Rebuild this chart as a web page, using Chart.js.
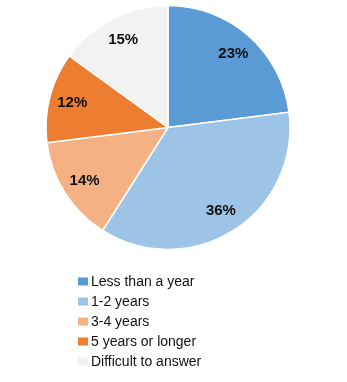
<!DOCTYPE html>
<html>
<head>
<meta charset="utf-8">
<script src="https://cdn.jsdelivr.net/npm/chart.js@4/dist/chart.umd.min.js"></script>
<style>
  html, body { margin: 0; padding: 0; background: #ffffff; }
  #wrap { width: 347px; height: 382px; }
</style>
</head>
<body>
<div id="wrap"><canvas id="chart" width="347" height="382"></canvas></div>
<script>
// Time spent – share of respondents
const categories = ['Less than a year', '1-2 years', '3-4 years', '5 years or longer', 'Difficult to answer'];
const shares = [23, 36, 14, 12, 15];
const colors = ['#5B9BD5', '#9DC3E6', '#F4B183', '#ED7D31', '#F2F2F2'];

const FONT = 'Arial, "Liberation Sans", sans-serif';

// Percent labels inside each slice
const sliceLabels = {
  id: 'sliceLabels',
  afterDatasetsDraw(chart) {
    const ctx = chart.ctx;
    const meta = chart.getDatasetMeta(0);
    ctx.save();
    ctx.font = 'bold 15px ' + FONT;
    ctx.fillStyle = '#111111';
    ctx.textAlign = 'center';
    ctx.textBaseline = 'middle';
    meta.data.forEach((arc, i) => {
      const p = arc.getProps(['x', 'y', 'startAngle', 'endAngle', 'outerRadius'], true);
      const mid = (p.startAngle + p.endAngle) / 2;
      const r = p.outerRadius * 0.81;
      ctx.fillText(shares[i] + '%', p.x + Math.cos(mid) * r, p.y + Math.sin(mid) * r);
    });
    ctx.restore();
  }
};

// Single-column legend under the pie
const columnLegend = {
  id: 'columnLegend',
  afterDraw(chart) {
    const ctx = chart.ctx;
    const x0 = 78, y0 = 281, step = 20;
    ctx.save();
    ctx.font = '14px ' + FONT;
    ctx.textBaseline = 'middle';
    ctx.textAlign = 'left';
    categories.forEach((label, i) => {
      const y = y0 + i * step;
      ctx.fillStyle = colors[i];
      ctx.fillRect(x0, y - 3.5, 10, 8);
      ctx.fillStyle = '#111111';
      ctx.fillText(label, x0 + 13, y + 1);
    });
    ctx.restore();
  }
};

new Chart(document.getElementById('chart'), {
  type: 'pie',
  data: {
    labels: categories,
    datasets: [{
      data: shares,
      backgroundColor: colors,
      borderColor: '#ffffff',
      borderWidth: 1.5,
      radius: 122
    }]
  },
  options: {
    responsive: false,
    animation: false,
    layout: { padding: { top: 5, left: 0, right: 11, bottom: 132 } },
    plugins: {
      legend: { display: false },
      tooltip: { enabled: false }
    }
  },
  plugins: [sliceLabels, columnLegend]
});
</script>
</body>
</html>
